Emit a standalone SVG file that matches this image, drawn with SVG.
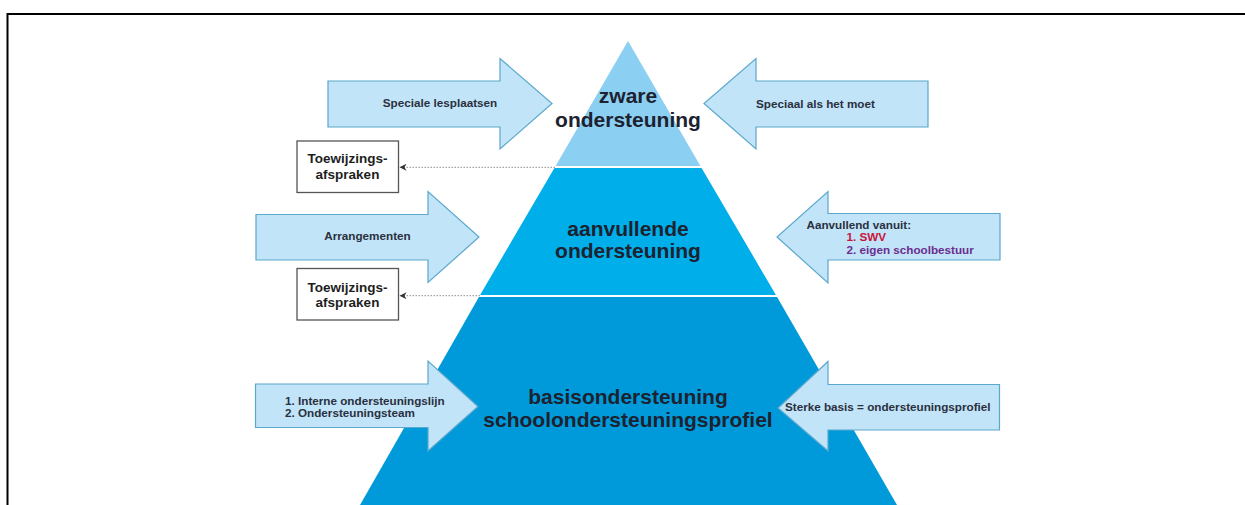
<svg xmlns="http://www.w3.org/2000/svg" width="1245" height="505" viewBox="0 0 1245 505">
<style>
.big{font-family:"Liberation Sans",Arial,sans-serif;font-weight:bold;font-size:21px;fill:#1d2230;text-anchor:middle}
.sm{font-family:"Liberation Sans",Arial,sans-serif;font-weight:bold;font-size:11.7px;fill:#2a3040}
.bx{font-family:"Liberation Sans",Arial,sans-serif;font-weight:bold;font-size:13.5px;fill:#1e1e1e;text-anchor:middle}
.arrow{fill:#c2e4f8;stroke:#5aa8cc;stroke-width:1.2}
.box{fill:#fff;stroke:#555;stroke-width:1.3}
.sep{stroke:#fff;stroke-width:2}
.dot{stroke:#8a8a8a;stroke-width:1;stroke-dasharray:1.5 1.5;fill:none}
</style>
<defs>
<marker id="ah" markerUnits="userSpaceOnUse" markerWidth="8" markerHeight="8" refX="7" refY="3.5" orient="auto">
<path d="M0,0 L7,3.5 L0,7 L2,3.5 z" fill="#333"/>
</marker>
</defs>
<rect width="1245" height="505" fill="#fff"/>
<path d="M7.5,505 V14 H1245" fill="none" stroke="#000" stroke-width="2"/>

<g id="level-top">
<polygon points="628,41 701,167 555,167" fill="#8bcff2"/>
<text class="big" x="628" y="103">zware</text>
<text class="big" x="628" y="126.5">ondersteuning</text>
</g>
<g id="level-mid">
<polygon points="555,167 701,167 776.5,296 479.5,296" fill="#00aeea"/>
<text class="big" x="628" y="235.5">aanvullende</text>
<text class="big" x="628" y="257.5">ondersteuning</text>
</g>
<g id="level-base">
<polygon points="479.5,296 776.5,296 897,505 360,505" fill="#009ada"/>
<text class="big" x="628" y="404">basisondersteuning</text>
<text class="big" x="628" y="427">schoolondersteuningsprofiel</text>
</g>
<line class="sep" x1="554" y1="167" x2="702" y2="167"/>
<line class="sep" x1="479" y1="296" x2="777" y2="296"/>

<g id="arrow-speciale-lesplaatsen">
<polygon class="arrow" points="328,81 500,81 500,58.5 552,103.5 500,149 500,127 328,127"/>
<text class="sm" x="440" y="107" text-anchor="middle">Speciale lesplaatsen</text>
</g>
<g id="arrow-speciaal-als-het-moet">
<polygon class="arrow" points="928,81 756,81 756,58.5 704,103.5 756,149 756,127 928,127"/>
<text class="sm" x="756" y="107.5">Speciaal als het moet</text>
</g>
<g id="arrow-arrangementen">
<polygon class="arrow" points="256,214.5 428,214.5 428,191.5 479,237 428,282.5 428,260 256,260"/>
<text class="sm" x="367.5" y="239.5" text-anchor="middle">Arrangementen</text>
</g>
<g id="arrow-aanvullend-vanuit">
<polygon class="arrow" points="1000,213.5 828,213.5 828,191.5 777,237 828,283 828,260 1000,260"/>
<text class="sm" x="806.5" y="229">Aanvullend vanuit:</text>
<text class="sm" x="846.5" y="241" style="fill:#c8143c">1. SWV</text>
<text class="sm" x="846.5" y="253.5" style="fill:#6b2d8e">2. eigen schoolbestuur</text>
</g>
<g id="arrow-interne">
<polygon class="arrow" points="255.5,384 428,384 428,361 478,406.5 428,451 428,427.5 255.5,427.5"/>
<text class="sm" x="285" y="404.5">1. Interne ondersteuningslijn</text>
<text class="sm" x="285" y="416.5">2. Ondersteuningsteam</text>
</g>
<g id="arrow-sterke-basis">
<polygon class="arrow" points="999.5,384.5 828,384.5 828,361.5 778,408 828,451 828,430 999.5,430"/>
<text class="sm" x="785" y="411">Sterke basis = ondersteuningsprofiel</text>
</g>

<g id="box-toewijzing-1">
<rect class="box" x="297" y="141" width="101.5" height="51.5"/>
<text class="bx" x="347.5" y="163">Toewijzings-</text>
<text class="bx" x="347.5" y="178.5">afspraken</text>
</g>
<g id="box-toewijzing-2">
<rect class="box" x="297" y="268.5" width="101.5" height="51.5"/>
<text class="bx" x="347.5" y="291.5">Toewijzings-</text>
<text class="bx" x="347.5" y="307">afspraken</text>
</g>

<g id="connectors">
<line class="dot" x1="555" y1="167.3" x2="399.5" y2="167.3" marker-end="url(#ah)"/>
<line class="dot" x1="480" y1="295.7" x2="399.5" y2="295.7" marker-end="url(#ah)"/>
</g>
</svg>
